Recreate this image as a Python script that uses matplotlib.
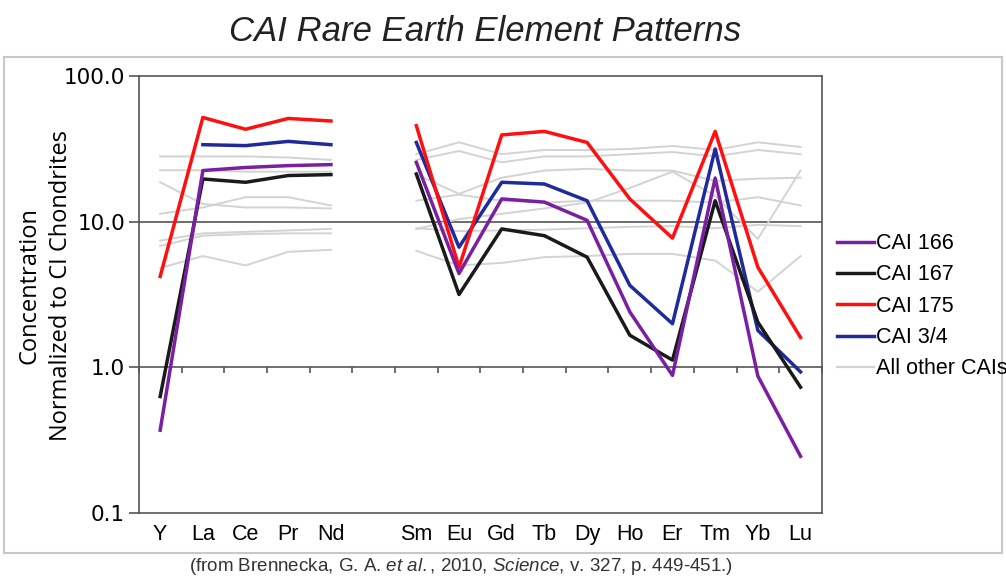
"""CAI rare earth element patterns (after Brennecka et al., 2010)."""

import numpy as np
import matplotlib.pyplot as plt
from matplotlib.patches import Rectangle
from matplotlib.lines import Line2D

plt.rcParams['mathtext.fontset'] = 'custom'
plt.rcParams['mathtext.rm'] = 'Liberation Sans'
plt.rcParams['mathtext.it'] = 'Liberation Sans:italic'

nan = np.nan
elements = ["Y", "La", "Ce", "Pr", "Nd", "", "Sm", "Eu", "Gd", "Tb", "Dy", "Ho", "Er", "Tm", "Yb", "Lu"]

cai_166 = [0.37, 22.4, 23.5, 24.2, 24.6, nan, 25.5, 4.4, 14.3, 13.6, 10.2, 2.4, 0.88, 19.9, 0.87, 0.245]
cai_167 = [0.63, 19.6, 18.6, 20.7, 21.0, nan, 21.2, 3.16, 8.9, 8.0, 5.7, 1.66, 1.12, 13.9, 2.04, 0.73]
cai_175 = [4.2, 51.8, 43.0, 51.0, 49.0, nan, 45.5, 4.86, 39.3, 41.6, 34.9, 14.3, 7.7, 41.6, 4.86, 1.6]
cai_3_4 = [nan, 33.7, 33.2, 35.5, 33.7, nan, 34.9, 6.67, 18.6, 18.1, 13.9, 3.65, 1.99, 31.5, 1.79, 0.93]

# the faint grey patterns (all other CAIs)
other_cais = [
    [28.0, 28.0, 28.0, 27.5, 26.5, nan, 29.0, 35.0, 29.0, 31.0, 31.0, 31.5, 33.0, 31.0, 35.0, 32.5],
    [22.5, 22.5, 22.0, 22.0, 22.0, nan, 26.5, 30.5, 25.5, 28.0, 28.0, 29.0, 30.0, 28.0, 31.0, 29.0],
    [18.6, 13.2, 12.5, 12.5, 12.3, nan, 21.0, 15.5, 20.0, 22.4, 23.0, 22.4, 22.4, 19.0, 19.7, 20.0],
    [11.3, 12.5, 14.7, 14.7, 12.9, nan, 13.9, 15.3, 13.9, 13.5, 13.9, 13.9, 13.9, 13.5, 14.7, 12.9],
    [7.4, 8.3, 8.5, 8.7, 8.9, nan, 8.9, 10.4, 11.3, 12.3, 13.5, 17.0, 22.0, 15.0, 7.6, 22.4],
    [6.8, 8.0, 8.2, 8.3, 8.3, nan, 9.0, 8.6, 8.7, 8.8, 9.0, 9.2, 9.3, 9.0, 9.5, 9.3],
    [4.8, 5.8, 5.0, 6.2, 6.4, nan, 6.3, 5.0, 5.2, 5.7, 5.8, 6.0, 6.0, 5.4, 3.3, 5.8],
]

fig = plt.figure(figsize=(10.06, 5.79), dpi=100)
ax = fig.add_axes([0.138, 0.114, 0.679, 0.755])

x = np.arange(len(elements))
for row in other_cais:
    ax.plot(x, row, color="#d3d3d3", lw=1.4, zorder=2)

ax.plot(x, cai_3_4, color="#1f2a9c", lw=2.5, zorder=3)
ax.plot(x, cai_175, color="#ff1010", lw=2.5, zorder=4)
ax.plot(x, cai_167, color="#1a1a1a", lw=2.5, zorder=5)
ax.plot(x, cai_166, color="#7b1fa2", lw=2.5, zorder=6)

ax.set_yscale("log")
ax.set_ylim(0.1, 100)
ax.set_xlim(-0.5, len(elements) - 0.5)
ax.set_yticks([0.1, 1, 10, 100])
ax.set_yticklabels(["0.1", "1.0", "10.0", "100.0"])
ax.minorticks_off()
ax.tick_params(axis="y", direction="out", length=7, width=1.2, color="#555555",
               labelsize=15.5, pad=3)
ax.set_xticks(x)
ax.set_xticklabels(elements, family="Liberation Sans", fontsize=15.5)
ax.tick_params(axis="x", length=0, pad=8)
for s in ax.spines.values():
    s.set_color("#555555")
    s.set_linewidth(1.2)
ax.axhline(10, color="#444444", lw=1.1, zorder=1)

# category axis crosses at 1.0 with ticks between the elements
sec = ax.secondary_xaxis(1 / 3)
sec.set_xticks(np.arange(-0.5, len(elements), 1))
sec.set_xticklabels([])
sec.tick_params(direction="out", length=4, width=1.2, color="#555555")
sec.spines["bottom"].set_color("#555555")
sec.spines["bottom"].set_linewidth(1.2)

ax.set_ylabel("Concentration\nNormalized to CI Chondrites", family="Open Sans",
              fontsize=17, linespacing=1.4)
ax.yaxis.set_label_coords(-0.097, 0.52)

handles = [
    Line2D([], [], color="#7b1fa2", lw=2.5),
    Line2D([], [], color="#1a1a1a", lw=2.5),
    Line2D([], [], color="#ff1010", lw=2.5),
    Line2D([], [], color="#1f2a9c", lw=2.5),
    Line2D([], [], color="#d3d3d3", lw=1.6),
]
labels = ["CAI 166", "CAI 167", "CAI 175", "CAI 3/4", "All other CAIs"]
fig.legend(handles, labels, loc="center left", bbox_to_anchor=(0.826, 0.471),
           frameon=False, handlelength=1.7, handletextpad=0.1, labelspacing=0.48,
           borderaxespad=0, borderpad=0.3,
           prop={"family": "Liberation Sans", "size": 15.5})

fig.text(0.482, 0.946, "CAI Rare Earth Element Patterns", ha="center", va="center",
         fontsize=25, style="italic", family="Liberation Sans", color="#222222")
fig.text(0.458, 0.021,
         r"(from Brennecka, G. A. $\it{et\ al.}$, 2010, $\it{Science}$, v. 327, p. 449-451.)",
         ha="center", va="center", fontsize=13.5, family="Liberation Sans", color="#333333")

fig.patches.append(Rectangle((0.004, 0.045), 0.992, 0.857, transform=fig.transFigure,
                             fill=False, edgecolor="#c8c8c8", lw=1.5))

fig.savefig("out.png", dpi=100)
